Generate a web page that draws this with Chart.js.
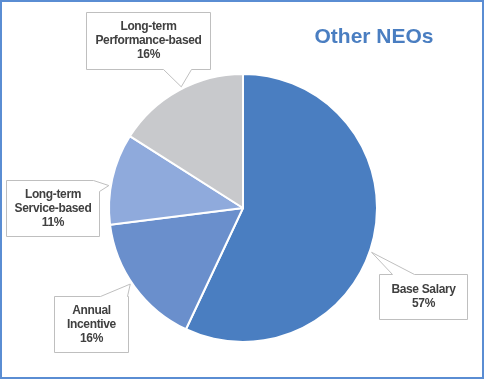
<!DOCTYPE html>
<html>
<head>
<meta charset="utf-8">
<script src="https://cdn.jsdelivr.net/npm/chart.js@4/dist/chart.umd.min.js"></script>
<style>
  html, body { margin: 0; padding: 0; background: #ffffff; }
  #wrap { position: relative; width: 484px; height: 379px; box-sizing: border-box; border: 2px solid #5a8dd3; background: #fff; }
  #c { position: absolute; left: -2px; top: -2px; }
</style>
</head>
<body>
<div id="wrap"><canvas id="c" width="484" height="379"></canvas></div>
<script>
// Data
const categories = ["Base Salary", "Annual Incentive", "Long-term Service-based", "Long-term Performance-based"];
const labelLines = [["Base Salary"], ["Annual", "Incentive"], ["Long-term", "Service-based"], ["Long-term", "Performance-based"]];
const values = [57, 16, 11, 16];
const colors = ["#4a7ec1", "#6a8fcc", "#8faadc", "#c8c9cc"];
const titleText = "Other NEOs";

// Callout layout (box rect, tip angle in degrees, wedge base positions along perimeter)
const callouts = [
  { box: [379, 274, 88, 45], tipDeg: 19, wedge: [13, 35] },
  { box: [54, 296, 74, 56], tipDeg: 146, wedge: [46, 73] },
  { box: [6, 180, 93, 56], tipDeg: 189.5, wedge: [87, 104] },
  { box: [86, 12, 124, 57], tipDeg: 243, wedge: [124 + 57 + 19, 124 + 57 + 47] }
];

function pointOnPerimeter(x, y, w, h, s) {
  const P = 2 * (w + h);
  s = ((s % P) + P) % P;
  if (s <= w) return [x + s, y];
  s -= w;
  if (s <= h) return [x + w, y + s];
  s -= h;
  if (s <= w) return [x + w - s, y + h];
  s -= w;
  return [x, y + h - s];
}

const calloutPlugin = {
  id: 'callouts',
  afterDraw(chart) {
    const ctx = chart.ctx;
    const meta = chart.getDatasetMeta(0);
    const arc0 = meta.data[0];
    const cx = arc0.x, cy = arc0.y, r = arc0.outerRadius;
    // title
    ctx.save();
    ctx.fillStyle = "#4a7ec1";
    ctx.font = "bold 21px 'Liberation Sans', Arial, sans-serif";
    ctx.textAlign = "center";
    ctx.textBaseline = "middle";
    ctx.fillText(titleText, 374, 37);
    ctx.restore();

    callouts.forEach((c, i) => {
      const [x, y, w, h] = c.box;
      const a = c.tipDeg * Math.PI / 180;
      const tip = [cx + (r + 2) * Math.cos(a), cy + (r + 2) * Math.sin(a)];
      const P = 2 * (w + h);
      const s1 = c.wedge[0], s2 = c.wedge[1];
      const corners = [0, w, w + h, 2 * w + h];
      ctx.save();
      ctx.beginPath();
      let p = pointOnPerimeter(x, y, w, h, s2);
      ctx.moveTo(p[0] + 0.5, p[1] + 0.5);
      const end = s1 + P;
      const pts = [];
      for (let k = 0; k < 8; k++) {
        const cs = corners[k % 4] + Math.floor(k / 4) * P;
        if (cs > s2 && cs < end) pts.push(cs);
      }
      pts.sort((m, n) => m - n);
      pts.forEach(cs => { const q = pointOnPerimeter(x, y, w, h, cs); ctx.lineTo(q[0] + 0.5, q[1] + 0.5); });
      const q1 = pointOnPerimeter(x, y, w, h, s1);
      ctx.lineTo(q1[0] + 0.5, q1[1] + 0.5);
      ctx.lineTo(tip[0], tip[1]);
      ctx.closePath();
      ctx.fillStyle = "#ffffff";
      ctx.fill();
      ctx.strokeStyle = "#bfbfbf";
      ctx.lineWidth = 1;
      ctx.stroke();

      // text
      const lines = labelLines[i].concat([values[i] + "%"]);
      ctx.fillStyle = "#404040";
      ctx.font = "bold 12px 'Liberation Sans', Arial, sans-serif";
      try { ctx.letterSpacing = "-0.35px"; } catch (e) {}
      ctx.textAlign = "center";
      ctx.textBaseline = "middle";
      const lh = 14;
      const midY = y + h / 2 + 0.5;
      const startY = midY - (lines.length - 1) * lh / 2;
      lines.forEach((t, j) => ctx.fillText(t, x + w / 2 + 0.5, startY + j * lh));
      ctx.restore();
    });
  }
};

new Chart(document.getElementById('c'), {
  type: 'pie',
  data: {
    labels: categories,
    datasets: [{
      data: values,
      backgroundColor: colors,
      borderColor: "#ffffff",
      borderWidth: 2
    }]
  },
  options: {
    responsive: false,
    animation: false,
    layout: { padding: { top: 73, bottom: 36, left: 108, right: 106 } },
    plugins: { legend: { display: false }, tooltip: { enabled: false }, title: { display: false } }
  },
  plugins: [calloutPlugin]
});
</script>
</body>
</html>
